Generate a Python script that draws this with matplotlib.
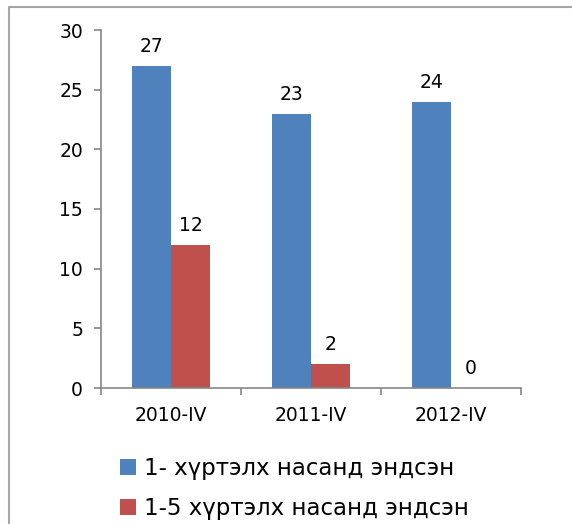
import numpy as np
import matplotlib
matplotlib.use("Agg")
import matplotlib.pyplot as plt
from matplotlib.lines import Line2D

categories = ["2010-IV", "2011-IV", "2012-IV"]
series_names = ["1- хүртэлх насанд эндсэн", "1-5 хүртэлх насанд эндсэн"]
under1 = [27, 23, 24]
under5 = [12, 2, 0]
yticks = [0, 5, 10, 15, 20, 25, 30]

blue = "#4F81BD"
red = "#C0504D"
axis_gray = "#868686"

plt.rcParams["font.family"] = ["DejaVu Sans"]

W, H = 572, 524
fig = plt.figure(figsize=(W / 100, H / 100), dpi=100)
ax = fig.add_axes([101 / W, 1 - 388 / H, 420 / W, 358 / H])

x = np.arange(len(categories))
bw = 0.282
b1 = ax.bar(x - bw / 2, under1, bw, color=blue, label=series_names[0])
b2 = ax.bar(x + bw / 2, under5, bw, color=red, label=series_names[1])

for bars, vals in ((b1, under1), (b2, under5)):
    for rect, v in zip(bars, vals):
        ax.annotate(str(v), (rect.get_x() + rect.get_width() / 2, rect.get_height()),
                    xytext=(0, 7), textcoords="offset points",
                    ha="center", va="bottom", fontsize=13.5)

ax.set_xlim(-0.5, len(categories) - 0.5)
ax.set_ylim(0, 30)
ax.set_yticks(yticks)
ax.set_xticks(x)
ax.set_xticklabels(categories)
ax.set_xticks(np.arange(len(categories) + 1) - 0.5, minor=True)
ax.tick_params(axis="x", which="major", length=0, labelsize=13.5, pad=13)
ax.tick_params(axis="x", which="minor", length=5, color=axis_gray, width=1.2)
ax.tick_params(axis="y", length=5, color=axis_gray, width=1.2, labelsize=13.5, pad=8)

for s in ("top", "right"):
    ax.spines[s].set_visible(False)
for s in ("left", "bottom"):
    ax.spines[s].set_color(axis_gray)
    ax.spines[s].set_linewidth(1.2)

# outer chart frame
fig.add_artist(Line2D([9 / W, 9 / W, 1.0], [0.0, 1 - 7 / H, 1 - 7 / H],
                      transform=fig.transFigure, color="#A6A6A6", lw=1.5))

fig.legend(handles=[b1, b2], loc="upper left", bbox_to_anchor=(120 / W, 1 - 457 / H),
           frameon=False, fontsize=16.5, handlelength=0.68, handleheight=0.72,
           handletextpad=0.35, labelspacing=0.75, borderaxespad=0, borderpad=0)

fig.savefig("out.png", dpi=100)
